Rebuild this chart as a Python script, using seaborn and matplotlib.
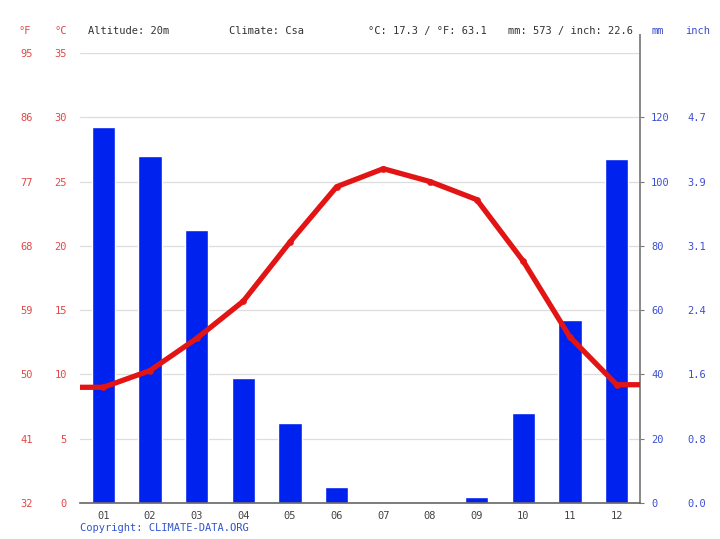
import numpy as np
import pandas as pd
import seaborn as sns
import matplotlib
matplotlib.use('Agg')
import matplotlib.pyplot as plt
from matplotlib.ticker import FixedLocator, FuncFormatter

# climate values
months = ['01', '02', '03', '04', '05', '06', '07', '08', '09', '10', '11', '12']
temp_c = [9.0, 10.3, 12.8, 15.7, 20.3, 24.6, 26.0, 25.0, 23.6, 18.8, 12.9, 9.2]
precip_mm = [117, 108, 85, 39, 25, 5, 0, 0, 2, 28, 57, 107]
c_ticks = [0, 5, 10, 15, 20, 25, 30, 35]
f_labels = ['32', '41', '50', '59', '68', '77', '86', '95']
mm_ticks = [0, 20, 40, 60, 80, 100, 120]
inch_labels = ['0.0', '0.8', '1.6', '2.4', '3.1', '3.9', '4.7']

RED = '#e31414'
LRED = '#e04848'
BLUE = '#0022ee'
LBLUE = '#3b4fd0'
TXT = '#333333'

sns.set_style('white')
plt.rcParams['font.family'] = ['DejaVu Sans Mono', 'DejaVu Sans']
plt.rcParams['font.size'] = 7.5

df = pd.DataFrame({'month': months, 'temp': temp_c, 'precip': precip_mm})

fig = plt.figure(figsize=(7.2, 5.39), dpi=100)
ax = fig.add_axes([80 / 720, 1 - 503 / 539, 560 / 720, 450 / 539])
axi = ax.twinx()   # inch labels
tf = ax.twinx()    # fahrenheit labels
tw = ax.twinx()    # temperature line

# precipitation bars (primary axis, scale on the right)
sns.barplot(data=df, x='month', y='precip', color=BLUE, width=0.5,
            saturation=1, ax=ax, zorder=2)
ax.set_xlim(-0.5, 11.5)
ax.set_ylim(0, 140)
ax.set_xlabel('')
ax.set_ylabel('')
ax.yaxis.tick_right()
ax.set_yticks(list(mm_ticks) + [140])
ax.yaxis.set_major_formatter(FuncFormatter(lambda v, p: '' if v > 125 else f'{v:.0f}'))
ax.tick_params(axis='y', labelcolor=LBLUE, color='#777777', length=3, width=0.8,
               pad=5, labelsize=7.5)
ax.yaxis.get_major_ticks()[-1].tick2line.set_visible(False)
ax.grid(axis='y', color='#dddddd', linewidth=0.9, zorder=0)
ax.set_axisbelow(True)
ax.tick_params(axis='x', which='major', length=0, pad=6, labelsize=7.5, labelcolor='#444444')
ax.xaxis.set_minor_locator(FixedLocator(np.arange(-0.5, 12.0, 1.0)))
ax.tick_params(axis='x', which='minor', direction='inout', length=4, width=0.8, color='#555555')
for s in ['top', 'left']:
    ax.spines[s].set_visible(False)
ax.spines['bottom'].set_color('#666666')
ax.spines['bottom'].set_linewidth(1.2)
ax.spines['right'].set_color('#888888')
ax.spines['right'].set_linewidth(1.4)
ax.spines['right'].set_bounds(0, 145.6)

# inch labels next to the mm labels
axi.set_ylim(0, 140)
axi.yaxis.tick_right()
axi.set_yticks(mm_ticks)
axi.set_yticklabels(inch_labels)
axi.tick_params(axis='y', colors=LBLUE, length=0, pad=34, labelsize=7.5)
for s in axi.spines.values():
    s.set_visible(False)

# fahrenheit labels
tf.set_ylim(0, 35)
tf.yaxis.tick_left()
tf.set_yticks(c_ticks)
tf.set_yticklabels(f_labels)
tf.tick_params(axis='y', colors=LRED, length=0, pad=34, labelsize=7.5)
for s in tf.spines.values():
    s.set_visible(False)

# temperature line (twin axis, scale on the left)
tw.set_ylim(0, 35)
x_pos = np.arange(len(months))
x_line = np.concatenate([[-0.5], x_pos, [11.5]])
y_line = [temp_c[0]] + temp_c + [temp_c[-1]]
sns.lineplot(x=x_line, y=y_line, color=RED, linewidth=3.8, ax=tw, zorder=5)
sns.scatterplot(x=x_pos, y=temp_c, color=RED, s=20, edgecolor=RED, ax=tw, zorder=6)
tw.set_xlim(-0.5, 11.5)
tw.yaxis.tick_left()
tw.set_yticks(c_ticks)
tw.set_yticklabels([str(c) for c in c_ticks])
tw.tick_params(axis='y', colors=LRED, length=0, pad=9.5, labelsize=7.5)
for s in tw.spines.values():
    s.set_visible(False)

# header and footer text
hy = 1 - 31 / 539
fig.text(25 / 720, hy, '°F', color=LRED, ha='center', va='center')
fig.text(61 / 720, hy, '°C', color=LRED, ha='center', va='center')
fig.text(88 / 720, hy, 'Altitude: 20m', color=TXT, va='center')
fig.text(229 / 720, hy, 'Climate: Csa', color=TXT, va='center')
fig.text(368 / 720, hy, '°C: 17.3 / °F: 63.1', color=TXT, va='center')
fig.text(508 / 720, hy, 'mm: 573 / inch: 22.6', color=TXT, va='center')
fig.text(658 / 720, hy, 'mm', color=LBLUE, ha='center', va='center')
fig.text(698 / 720, hy, 'inch', color=LBLUE, ha='center', va='center')
fig.text(80 / 720, 1 - 528 / 539, 'Copyright: CLIMATE-DATA.ORG', color='#3355cc', va='center')

fig.savefig('out.png', dpi=100)
